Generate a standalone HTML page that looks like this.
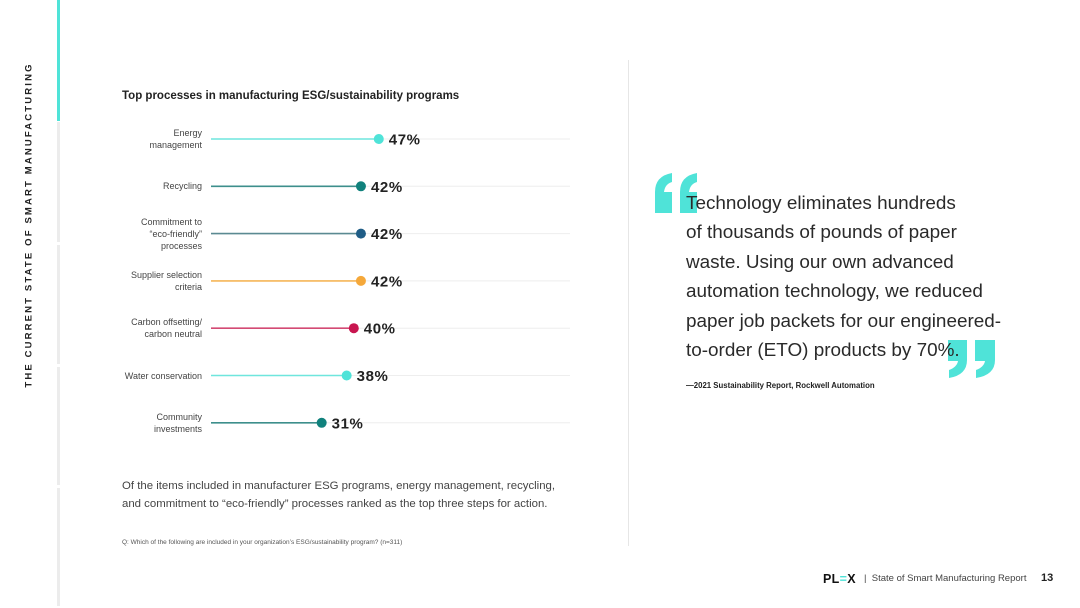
<!DOCTYPE html>
<html><head><meta charset="utf-8"><style>
body{margin:0;width:1080px;height:608px;background:#fff;position:relative;overflow:hidden;font-family:"Liberation Sans",sans-serif;color:#222}
.abs{position:absolute}
.lbl{position:absolute;right:878px;text-align:right;font-size:9px;line-height:12px;color:#444;width:120px}
</style></head><body>
<div class="abs" style="left:29px;top:225px;transform:translate(-50%,-50%) rotate(-90deg);white-space:nowrap;font-size:9.5px;font-weight:bold;letter-spacing:2.15px;color:#222">THE CURRENT STATE OF SMART MANUFACTURING</div>
<div class="abs" style="left:57px;top:0;width:3px;height:121px;background:#4fe3d8"></div>
<div class="abs" style="left:57px;top:122px;width:3px;height:120px;background:#ececec"></div>
<div class="abs" style="left:57px;top:245px;width:3px;height:119px;background:#ececec"></div>
<div class="abs" style="left:57px;top:367px;width:3px;height:118px;background:#ececec"></div>
<div class="abs" style="left:57px;top:488px;width:3px;height:118px;background:#ececec"></div>
<div class="abs" style="left:628px;top:60px;width:1px;height:486px;background:#e6e6e6"></div>
<div class="abs" style="left:122px;top:90px;font-size:11.5px;font-weight:bold;color:#222">Top processes in manufacturing ESG/sustainability programs</div>
<svg class="abs" style="left:0;top:0" width="1080" height="608" id="chart"></svg>
<div id="labels"></div>
<div class="abs" style="left:122px;top:477px;font-size:11.4px;line-height:18px;color:#444">Of the items included in manufacturer ESG programs, energy management, recycling,<br>and commitment to “eco-friendly” processes ranked as the top three steps for action.</div>
<div class="abs" style="left:122px;top:539px;font-size:6.5px;color:#555">Q: Which of the following are included in your organization’s ESG/sustainability program? (n=311)</div>
<svg class="abs" style="left:0;top:0" width="1080" height="608">
 <g fill="#4fe3d8">
  <path d="M655 213 L655 192 Q655 176 672 173 L672 182 Q665 184 664 192 L672 192 L672 213 Z"/>
  <path d="M680 213 L680 192 Q680 176 697 173 L697 182 Q690 184 689 192 L697 192 L697 213 Z"/>
  <path d="M948 340 L967 340 L967 360 Q967 375 949 378 L949 370 Q957 367 958 361 L948 361 Z"/>
  <path d="M975 340 L995 340 L995 360 Q995 375 976 378 L976 370 Q984 367 985 361 L975 361 Z"/>
 </g>
</svg>
<div class="abs" style="left:686px;top:189px;font-size:18.9px;line-height:29.4px;color:#2a2a2a">Technology eliminates hundreds<br>of thousands of pounds of paper<br>waste. Using our own advanced<br>automation technology, we reduced<br>paper job packets for our engineered-<br>to-order (ETO) products by 70%.</div>
<div class="abs" style="left:686px;top:381px;font-size:7.8px;font-weight:bold;color:#222">—2021 Sustainability Report, Rockwell Automation</div>
<div class="abs" style="left:823px;top:572px;font-size:12.5px;font-weight:bold;letter-spacing:0.3px;color:#111">PL<span style="color:#4fe3d8">=</span>X</div>
<div class="abs" style="left:864px;top:573px;font-size:9.5px;color:#444">|&nbsp; State of Smart Manufacturing Report</div>
<div class="abs" style="left:1041px;top:572px;font-size:11px;font-weight:bold;color:#222">13</div>
<script>
const categories=["Energy<br>management","Recycling","Commitment to<br>“eco-friendly”<br>processes","Supplier selection<br>criteria","Carbon offsetting/<br>carbon neutral","Water conservation","Community<br>investments"];
const values=[47,42,42,42,40,38,31];
const valueLabels=["47%","42%","42%","42%","40%","38%","31%"];
const colors=["#4fe3d8","#10817c","#1f5d86","#f5a83a","#c8154f","#4fe3d8","#10817c"];
const lineColors=["#6fe6dd","#3d8f8c","#5b8a92","#f5b658","#d34a74","#6fe6dd","#3d8f8c"];
const x=v=>211+v*3.57, y=i=>139+i*47.3;
const svg=document.getElementById('chart'), ns='http://www.w3.org/2000/svg';
const lab=document.getElementById('labels');
values.forEach((v,i)=>{
 const g=document.createElementNS(ns,'line');
 
 
 g.setAttribute('x1',x(v));g.setAttribute('x2',570);g.setAttribute('y1',y(i));g.setAttribute('y2',y(i));g.setAttribute('stroke','#eeeeee');g.setAttribute('stroke-width','1');svg.appendChild(g);
 const l=document.createElementNS(ns,'line');
 
 
 l.setAttribute('x1',x(0));l.setAttribute('x2',x(v));l.setAttribute('y1',y(i));l.setAttribute('y2',y(i));l.setAttribute('stroke',lineColors[i]);l.setAttribute('stroke-width','1.6');svg.appendChild(l);
 const c=document.createElementNS(ns,'circle');
 
 
 c.setAttribute('cx',x(v));c.setAttribute('cy',y(i));c.setAttribute('r','5');c.setAttribute('fill',colors[i]);svg.appendChild(c);
 const t=document.createElementNS(ns,'text');
 
 
 t.setAttribute('x',x(v)+10);t.setAttribute('y',y(i)+5.5);t.setAttribute('font-size','15');t.setAttribute('font-weight','bold');t.setAttribute('letter-spacing','0.6');t.setAttribute('fill','#222');t.setAttribute('font-family','Liberation Sans, sans-serif');t.textContent=valueLabels[i];svg.appendChild(t);
 const d=document.createElement('div');
 
 
 d.className='lbl';const n=categories[i].split('<br>').length;
 d.style.top=(y(i)-n*6)+'px';d.innerHTML=categories[i];lab.appendChild(d);
});
</script>
</body></html>
